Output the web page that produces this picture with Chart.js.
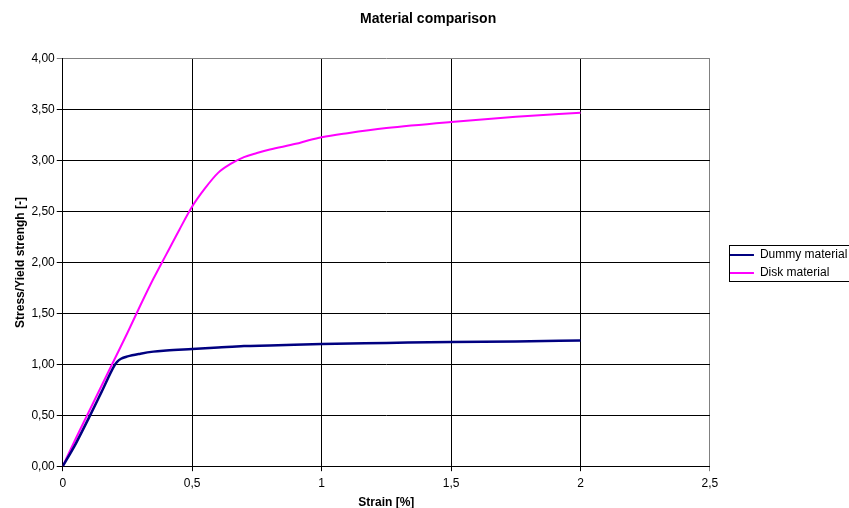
<!DOCTYPE html>
<html>
<head>
<meta charset="utf-8">
<script src="https://cdn.jsdelivr.net/npm/chart.js@4.4.1/dist/chart.umd.min.js"></script>
<style>
  body { margin: 0; background: #fff; }
  #wrap { width: 849px; height: 508px; }
</style>
</head>
<body>
<div id="wrap"><canvas id="chart" width="849" height="508"></canvas></div>
<script>
// strain [%] and stress/yield values
const dummyStrain = [0, 0.05, 0.1, 0.15, 0.2, 0.21, 0.225, 0.25, 0.3, 0.35, 0.4, 0.5, 0.6, 0.7, 0.8, 1.0, 1.25, 1.5, 1.75, 2.0];
const dummyStress = [0, 0.22, 0.47, 0.73, 0.99, 1.025, 1.055, 1.078, 1.105, 1.125, 1.135, 1.15, 1.165, 1.18, 1.185, 1.2, 1.21, 1.22, 1.225, 1.235];

const diskStrain = [0, 0.05, 0.1, 0.15, 0.2, 0.25, 0.3, 0.35, 0.4, 0.45, 0.5, 0.55, 0.6, 0.65, 0.7, 0.75, 0.8, 0.9, 0.95, 1.0, 1.1, 1.25, 1.5, 1.75, 2.0];
const diskStress = [0, 0.27, 0.53, 0.79, 1.05, 1.31, 1.58, 1.84, 2.08, 2.32, 2.55, 2.73, 2.88, 2.97, 3.035, 3.075, 3.11, 3.165, 3.2, 3.23, 3.27, 3.32, 3.38, 3.43, 3.47];

const seriesNames = ["Dummy material", "Disk material"];
const seriesColors = ["#000080", "#FF00FF"];

function toPoints(xs, ys) {
    return xs.map((x, i) => ({ x: x, y: ys[i] }));
}

const comma = v => String(v).replace('.', ',');
const fam = 'Liberation Sans, Arial';

// box around the legend, like the spreadsheet one
const legendBox = {
    id: 'legendBox',
    afterLayout(chart) {
        const lg = chart.legend;
        lg.left += 14;
        lg.right += 14;
        lg.top += 9;
        lg.bottom += 9;
    },
    afterDraw(chart) {
        const boxes = chart.legend.legendHitBoxes;
        const first = boxes[0];
        const last = boxes[boxes.length - 1];
        const top = Math.round(first.top + first.height / 2 - 10);
        const bottom = Math.round(last.top + last.height / 2 + 8);
        const c = chart.ctx;
        c.save();
        c.strokeStyle = '#000';
        c.lineWidth = 1;
        c.strokeRect(Math.round(first.left) - 0.5, top + 0.5, 140, bottom - top);
        c.restore();
    }
};

const ctx = document.getElementById('chart').getContext('2d');
new Chart(ctx, {
    type: 'line',
    data: {
        datasets: [
            {
                label: seriesNames[0],
                data: toPoints(dummyStrain, dummyStress),
                borderColor: seriesColors[0],
                backgroundColor: seriesColors[0],
                borderWidth: 2.5,
                pointRadius: 0,
                cubicInterpolationMode: 'monotone'
            },
            {
                label: seriesNames[1],
                data: toPoints(diskStrain, diskStress),
                borderColor: seriesColors[1],
                backgroundColor: seriesColors[1],
                borderWidth: 2,
                pointRadius: 0,
                cubicInterpolationMode: 'monotone'
            }
        ]
    },
    options: {
        responsive: false,
        animation: false,
        layout: { padding: { left: 13, right: 5.7, top: 0, bottom: -2 } },
        plugins: {
            title: {
                display: true,
                text: 'Material comparison',
                color: '#000',
                font: { family: fam, size: 14, weight: 'bold' },
                padding: { top: 11, bottom: 31 }
            },
            legend: {
                position: 'right',
                labels: {
                    color: '#000',
                    font: { family: fam, size: 12 },
                    boxWidth: 24,
                    boxHeight: 2,
                    padding: 6,
                    generateLabels(chart) {
                        return chart.data.datasets.map((ds, i) => ({
                            text: ds.label,
                            fillStyle: ds.borderColor,
                            strokeStyle: ds.borderColor,
                            lineWidth: 0,
                            datasetIndex: i,
                            fontColor: '#000'
                        }));
                    }
                }
            },
            tooltip: { enabled: false }
        },
        scales: {
            x: {
                type: 'linear',
                min: 0,
                max: 2.5,
                ticks: {
                    stepSize: 0.5,
                    color: '#000',
                    padding: 5,
                    font: { family: fam, size: 12 },
                    callback: v => comma(v)
                },
                grid: {
                    color: c => c.tick && c.tick.value === 2.5 ? '#808080' : '#000',
                    tickLength: 5,
                    lineWidth: 1
                },
                border: { color: '#000', width: 1 },
                title: {
                    display: true,
                    text: 'Strain [%]',
                    color: '#000',
                    font: { family: fam, size: 12, weight: 'bold' },
                    padding: { top: 0, bottom: 0 }
                }
            },
            y: {
                min: 0,
                max: 4,
                ticks: {
                    stepSize: 0.5,
                    color: '#000',
                    padding: 2,
                    font: { family: fam, size: 12 },
                    callback: v => v.toFixed(2).replace('.', ',')
                },
                grid: {
                    color: c => c.tick && c.tick.value === 4 ? '#808080' : '#000',
                    tickLength: 6,
                    lineWidth: 1
                },
                border: { color: '#000', width: 1 },
                title: {
                    display: true,
                    text: 'Stress/Yield strengh [-]',
                    color: '#000',
                    font: { family: fam, size: 12, weight: 'bold' },
                    padding: { top: 0, bottom: 2 }
                }
            }
        }
    },
    plugins: [legendBox]
});
</script>
</body>
</html>
